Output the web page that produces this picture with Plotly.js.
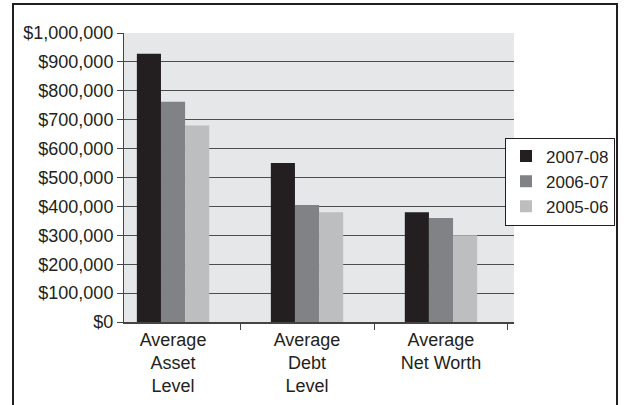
<!DOCTYPE html>
<html>
<head>
<meta charset="utf-8">
<script src="https://cdn.plot.ly/plotly-3.0.1.min.js"></script>
<style>
  html, body { margin: 0; padding: 0; background: #fff; }
  #frame { position: absolute; left: 12px; top: 3px; width: 602px; height: 420px; border: 2px solid #231f20; }
  #chart { position: absolute; left: 0; top: 0; width: 626px; height: 405px; }
</style>
</head>
<body>
<div id="frame"></div>
<div id="chart"></div>
<script>
const categories = ["Average<br>Asset<br>Level", "Average<br>Debt<br>Level", "Average<br>Net Worth"];
const seriesNames = ["2007-08", "2006-07", "2005-06"];
const values2007 = [928000, 550000, 380000];
const values2006 = [762000, 405000, 360000];
const values2005 = [680000, 380000, 300000];
const yTickVals = [0, 100000, 200000, 300000, 400000, 500000, 600000, 700000, 800000, 900000, 1000000];

const colors = ["#231f20", "#808285", "#bcbec0"];
const allValues = [values2007, values2006, values2005];

const traces = allValues.map((v, i) => ({
  type: "bar",
  name: seriesNames[i],
  x: categories,
  y: v,
  marker: { color: colors[i], line: { width: 0 } },
  hoverinfo: "none"
}));

const layout = {
  width: 626, height: 405,
  margin: { l: 124, r: 112, t: 33, b: 83, pad: 0, autoexpand: false },
  paper_bgcolor: "rgba(0,0,0,0)",
  plot_bgcolor: "#e6e7e8",
  font: { family: "Liberation Sans, Arial, sans-serif", size: 18, color: "#231f20" },
  barmode: "group",
  bargap: 0.46,
  bargroupgap: 0,
  showlegend: true,
  legend: {
    x: 1.259, xanchor: "right", y: 0.486, yanchor: "middle",
    bgcolor: "#ffffff", bordercolor: "#231f20", borderwidth: 1,
    font: { size: 17, color: "#231f20" },
    itemwidth: 30, tracegroupgap: 0
  },
  xaxis: {
    type: "category",
    range: [-0.366, 2.545],
    showgrid: false,
    showline: true, linecolor: "#444", linewidth: 2,
    ticks: "outside", tickson: "boundaries", ticklen: 6, tickcolor: "#444",
    tickfont: { size: 18 },
    zeroline: false,
    fixedrange: true
  },
  yaxis: {
    range: [0, 1000000],
    tickvals: yTickVals,
    tickformat: "$,.0f",
    showgrid: true, gridcolor: "#4d4d4f", gridwidth: 1,
    showline: true, linecolor: "#444", linewidth: 1,
    ticks: "outside", ticklen: 6, tickcolor: "#444",
    tickfont: { size: 18 },
    zeroline: false,
    fixedrange: true
  }
};

Plotly.newPlot("chart", traces, layout, { displayModeBar: false, staticPlot: true });
</script>
</body>
</html>
